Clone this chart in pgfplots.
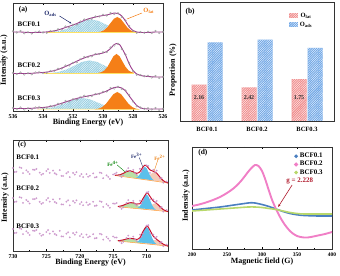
\documentclass[border=0pt]{standalone}
\usepackage{pgfplots}
\pgfplotsset{compat=1.18}
\usepackage{fontspec}
\setmainfont{Liberation Serif}
\usetikzlibrary{patterns,patterns.meta,arrows.meta}
\definecolor{envA}{HTML}{9B3C8C}
\definecolor{adsC}{HTML}{98CFE2}
\definecolor{latC}{HTML}{F57F17}
\definecolor{barR}{HTML}{F08C8C}
\definecolor{barB}{HTML}{6EA6E6}
\definecolor{envC}{HTML}{C8102E}
\definecolor{grnC}{HTML}{B9E0A5}
\definecolor{bluC}{HTML}{5BC0EB}
\definecolor{tanC}{HTML}{F3CBB8}
\definecolor{scC}{HTML}{C890C8}
\definecolor{pkD}{HTML}{F07FC6}
\definecolor{blD}{HTML}{4A7FC0}
\definecolor{grD}{HTML}{B8D86B}
\definecolor{navy}{HTML}{1F2A6B}
\definecolor{dred}{HTML}{B01C2E}
\newcommand{\fs}[1]{\fontsize{#1}{#1}\selectfont\bfseries}
\pgfplotsset{every axis/.append style={scale only axis,
  /pgf/number format/assume math mode=true,
  tick label style={font=\fs{6}},
  label style={font=\fs{8}},
  axis line style={line width=0.6pt, black!80},
  tick style={line width=0.5pt, black},
  major tick length=2.5pt, minor tick length=1.5pt}}
\tikzset{hatchW/.style={postaction={pattern={Lines[angle=45,distance=1.6pt,line width=0.35pt]}, pattern color=white}}}
\begin{document}
\begin{tikzpicture}
\useasboundingbox (0,0) rectangle (340bp,276bp);
% ---------------- (a) ----------------
\begin{axis}[at={(13bp,165bp)}, anchor=south west, width=150bp, height=108bp,
  xmin=526, xmax=536, x dir=reverse, ymin=0, ymax=108,
  xtick={526,528,...,536}, minor x tick num=1, ytick=\empty,
  xlabel={Binding Energy (eV)}, ylabel={Intensity (a.u.)},
  xlabel style={at={(axis description cs:0.5,-0.11)}, anchor=center},
  ylabel style={at={(axis description cs:-0.06,0.47)}, anchor=center}]
% spectrum 1
\addplot[draw=none, fill=adsC, hatchW] coordinates {(533.8,78.6) (533.3,79.1) (532.8,80.3) (532.3,82.7) (531.8,86.4) (531.3,90.0) (530.8,91.5) (530.3,90.0) (529.8,86.4) (529.3,82.7) (528.8,80.3) (528.3,79.1) (527.8,78.6)} -- cycle;
\addplot[draw=none, fill=latC] coordinates {(530.4,78.7) (530.175,79.2) (529.95,80.6) (529.725,83.5) (529.5,87.9) (529.275,92.2) (529.05,94.0) (528.825,92.2) (528.6,87.9) (528.375,83.5) (528.15,80.6) (527.925,79.2) (527.7,78.7)} -- cycle;
\addplot[color=yellow!70!orange!60, line width=0.5pt] coordinates {(533.8,78.5) (527.7,78.5)};
\addplot[only marks, mark=o, mark size=0.9pt, gray!80, mark options={line width=0.35pt}] coordinates {(536,79.8) (535.75,78.4) (535.5,80) (535.25,77.8) (535,78.8) (534.75,77.5) (534.5,79.1) (534.25,79.5) (534,78.4) (533.75,78.3) (533.5,80) (533.25,80) (533,81.8) (532.75,81.6) (532.5,84.5) (532.25,83.8) (532,86.3) (531.75,86.5) (531.5,89.6) (531.25,91.4) (531,91.6) (530.75,92.2) (530.5,94.5) (530.25,94.6) (530,96.3) (529.75,95.4) (529.5,98) (529.25,97.1) (529,97.8) (528.75,94) (528.5,90.6) (528.25,84.9) (528,80.1) (527.75,78.2) (527.5,79) (527.25,78.3) (527,79.3) (526.75,78.1) (526.5,80) (526.25,78.1) (526,79.3)};
\addplot[color=envA, line width=0.9pt, smooth] coordinates {(536,79) (535.5,79) (535,78.5) (534.5,78.5) (534,78.8) (533.5,79.5) (533,81) (532.5,83.5) (532,86) (531.5,89) (531,92) (530.5,94) (530,95.5) (529.75,96) (529.5,97) (529.25,98) (529,97.5) (528.75,95) (528.5,90) (528.25,84) (528,80.5) (527.75,79) (527.5,78.5) (527,78.5) (526.5,79) (526,79)};
% spectrum 2
\addplot[draw=none, fill=adsC, hatchW] coordinates {(533.9,37.6) (533.4,38.1) (532.9,39.3) (532.4,41.7) (531.9,45.4) (531.4,49.0) (530.9,50.5) (530.4,49.0) (529.9,45.4) (529.4,41.7) (528.9,39.3) (528.4,38.1) (527.9,37.6)} -- cycle;
\addplot[draw=none, fill=latC] coordinates {(530.3,38.2) (530.1,38.8) (529.9,40.6) (529.7,44.2) (529.5,49.5) (529.3,54.8) (529.1,57) (528.9,54.8) (528.7,49.5) (528.5,44.2) (528.3,40.6) (528.1,38.8) (527.9,38.2)} -- cycle;
\addplot[color=yellow!70!orange!60, line width=0.5pt] coordinates {(533.9,37.5) (527.9,37.5)};
\addplot[only marks, mark=o, mark size=0.9pt, gray!80, mark options={line width=0.35pt}] coordinates {(536,38.3) (535.75,36.9) (535.5,38.5) (535.25,36.6) (535,37.8) (534.75,36.7) (534.5,38.6) (534.25,39.1) (534,38.1) (533.75,38.2) (533.5,40) (533.25,40.3) (533,42.3) (532.75,42.4) (532.5,45.5) (532.25,45.4) (532,48.3) (531.75,48.8) (531.5,52.1) (531.25,53.9) (531,54.1) (530.75,54.7) (530.5,57) (530.25,57.1) (530,58.8) (529.75,58.9) (529.5,63.5) (529.25,65.6) (529,67.3) (528.75,62) (528.5,56.6) (528.25,47.9) (528,40.1) (527.75,36.2) (527.5,36) (527.25,34.8) (527,35.3) (526.75,33.6) (526.5,35) (526.25,33.1) (526,34.3)};
\addplot[color=envA, line width=0.9pt, smooth] coordinates {(536,37.5) (535.5,37.5) (535,37.5) (534.5,38) (534,38.5) (533.5,39.5) (533,41.5) (532.5,44.5) (532,48) (531.5,51.5) (531,54.5) (530.5,56.5) (530,58) (529.75,59.5) (529.5,62.5) (529.25,66.5) (529.1,67.5) (528.9,66.5) (528.75,63) (528.5,56) (528.25,47) (528,40.5) (527.75,37) (527.5,35.5) (527,34.5) (526.5,34) (526,34)};
% spectrum 3
\addplot[draw=none, fill=adsC, hatchW] coordinates {(534.4,2.1) (533.9,2.5) (533.4,3.5) (532.9,5.6) (532.4,8.7) (531.9,11.7) (531.4,13) (530.9,11.7) (530.4,8.7) (529.9,5.6) (529.4,3.5) (528.9,2.5) (528.4,2.1)} -- cycle;
\addplot[draw=none, fill=latC] coordinates {(530.55,1.7) (530.3,2.3) (530.05,3.9) (529.8,7.2) (529.55,12.1) (529.3,16.9) (529.05,19) (528.8,16.9) (528.55,12.1) (528.3,7.2) (528.05,3.9) (527.8,2.3) (527.55,1.7)} -- cycle;
\addplot[color=yellow!70!orange!60, line width=0.5pt] coordinates {(534.4,2) (527.6,1.6)};
\addplot[only marks, mark=o, mark size=0.9pt, gray!80, mark options={line width=0.35pt}] coordinates {(536,3.3) (535.75,1.9) (535.5,3.5) (535.25,1.6) (535,2.8) (534.75,1.8) (534.5,3.6) (534.25,4.1) (534,3.1) (533.75,3.2) (533.5,5) (533.25,5.3) (533,7.3) (532.75,7.2) (532.5,10) (532.25,9.4) (532,11.8) (531.75,11.5) (531.5,14.1) (531.25,15.2) (531,14.6) (530.75,15) (530.5,17) (530.25,17.3) (530,19.3) (529.75,19.4) (529.5,23) (529.25,22.6) (529,24.3) (528.75,22) (528.5,20.6) (528.25,15.9) (528,9.6) (527.75,4.7) (527.5,3.5) (527.25,2.3) (527,2.8) (526.75,1.4) (526.5,3) (526.25,1.1) (526,2.3)};
\addplot[color=envA, line width=0.9pt, smooth] coordinates {(536,2.5) (535.5,2.5) (535,2.5) (534.5,3) (534,3.5) (533.5,4.5) (533,6.5) (532.5,9) (532,11.5) (531.5,13.5) (531,15) (530.5,16.5) (530,18.5) (529.75,20) (529.5,22) (529.25,23.5) (529,24) (528.75,23) (528.5,20) (528.25,15) (528,10) (527.75,5.5) (527.5,3) (527,2) (526.5,2) (526,2)};
% annotations
\node[font=\fs{7.5}, anchor=west] at (axis cs:535.85,101) {(a)};
\node[font=\fs{7}] at (axis cs:534.93,87) {BCF0.1};
\node[font=\fs{7}] at (axis cs:534.93,46) {BCF0.2};
\node[font=\fs{7}] at (axis cs:534.93,13) {BCF0.3};
\node[font=\fs{6.5}, navy] at (axis cs:533.5,97) {O\textsubscript{ads}};
\draw[navy, line width=0.5pt, -{Stealth[length=2.5pt]}] (axis cs:532.9,95) -- (axis cs:532.1,87.5);
\node[font=\fs{6.5}, latC] at (axis cs:526.95,100) {O\textsubscript{lat}};
\draw[latC, line width=0.5pt] (axis cs:527.4,98) -- (axis cs:528.4,92);
\end{axis}
% ---------------- (b) ----------------
\begin{axis}[at={(180bp,155bp)}, anchor=south west, width=154bp, height=119bp,
  ybar, bar width=0.3, xmin=-0.54, xmax=2.54, ymin=0, ymax=103.5,
  xtick={0,1,2}, xticklabels={BCF0.1,BCF0.2,BCF0.3}, ytick=\empty,
  xtick style={draw=none}, extra x ticks={0,1,2}, extra x tick labels={},
  extra x tick style={tick style={black}},
  x tick label style={font=\fs{6.5}},
  ylabel={Proportion (\%)},
  ylabel style={at={(axis description cs:-0.045,0.43)}, anchor=center},
  area legend,
  legend style={draw=none, fill=none, at={(0.69,0.94)}, anchor=north west, font=\fs{6.5}, row sep=-1pt},
  legend image code/.code={\fill[#1] (0cm,-0.08cm) rectangle (0.3cm,0.1cm);}]
\addplot[bar shift=-0.16, draw=none, fill=barR, hatchW] coordinates {(0,31.6) (1,29.2) (2,36.4)};
\addlegendentry{O\textsubscript{lat}}
\addplot[bar shift=0.16, draw=none, fill=barB, hatchW] coordinates {(0,68.4) (1,70.8) (2,63.6)};
\addlegendentry{O\textsubscript{ads}}
\node[font=\fs{6}, black!80] at (axis cs:-0.16,20) {2.16};
\node[font=\fs{6}, black!80] at (axis cs:0.84,20) {2.42};
\node[font=\fs{6}, black!80] at (axis cs:1.84,20) {1.75};
\node[font=\fs{7.5}, anchor=west] at (axis cs:-0.5,95) {(b)};
\end{axis}
% ---------------- (c) ----------------
\begin{axis}[at={(13bp,25bp)}, anchor=south west, width=155bp, height=111bp,
  xmin=706.8, xmax=730, x dir=reverse, ymin=0, ymax=111,
  xtick={710,715,...,730}, minor x tick num=1, ytick=\empty,
  xlabel={Binding Energy (eV)}, ylabel={Intensity (a.u.)},
  xlabel style={at={(axis description cs:0.5,-0.108)}, anchor=center},
  ylabel style={at={(axis description cs:-0.052,0.48)}, anchor=center}]
% scatter
\addplot[only marks, mark=*, mark size=0.75pt, scC, opacity=0.75] coordinates {(730,83) (729.5,79.3) (729,83.6) (728.5,77.9) (728,80.7) (727.5,77) (727,81.3) (726.5,82.1) (726,78.4) (725.5,77.2) (725,80) (724.5,78.2) (724,80.4) (723.5,76.6) (723,80.8) (722.5,75) (722,77.7) (721.5,73.9) (721,78.1) (720.5,78.8) (720,75) (719.5,73.9) (719,76.8) (718.5,75.2) (718,77.6) (717.5,74) (717,78.4) (716.5,72.8) (716,75.7) (715.5,72.1) (715,76.5) (714.5,78.4) (714,75.2) (713.5,75.6) (713,80.4) (712.5,79.8) (712,81.2) (711.5,76.2) (711,82.2) (710.5,82) (710,85.6) (709.5,78.1) (709,81.2) (708.5,80.4) (708,72.8) (707.5,68.3) (707,69.5) (729.75,78.9) (728.75,83) (727.75,79.1) (726.75,81.2) (725.75,76.3) (724.75,81.85) (723.75,77.75) (722.75,75.15) (721.75,79.05) (720.75,76.45) (719.75,76.95) (718.75,74.25) (717.75,73.55) (716.75,77.85) (715.75,74.15) (714.75,77.2) (713.75,73.9) (712.75,82.9) (711.75,78) (710.75,79.4) (709.75,85.1) (708.75,78.8) (707.75,73)};
\addplot[only marks, mark=*, mark size=0.75pt, scC, opacity=0.75] coordinates {(730,53) (729.5,49.4) (729,53.8) (728.5,48.2) (728,51.1) (727.5,47.5) (727,51.9) (726.5,52.8) (726,49.2) (725.5,48.1) (725,51) (724.5,49.3) (724,51.6) (723.5,47.9) (723,52.2) (722.5,46.5) (722,49.3) (721.5,45.6) (721,49.9) (720.5,50.7) (720,47) (719.5,45.8) (719,48.6) (718.5,46.9) (718,49.2) (717.5,45.5) (717,49.8) (716.5,44.1) (716,46.9) (715.5,43.2) (715,47.5) (714.5,48) (714,43.8) (713.5,43.7) (713,48.2) (712.5,47.8) (712,50.2) (711.5,45.4) (711,50.3) (710.5,50.4) (710,58.5) (709.5,51.6) (709,51.5) (708.5,50.1) (708,43.4) (707.5,39.4) (707,40.9) (729.75,48.95) (728.75,53.25) (727.75,49.55) (726.75,51.85) (725.75,47.15) (724.75,52.9) (723.75,49) (722.75,46.6) (721.75,50.7) (720.75,48.3) (719.75,48.9) (718.75,46) (717.75,45.1) (716.75,49.2) (715.75,45.3) (714.75,47.3) (713.75,42.2) (712.75,50.8) (711.75,47.1) (710.75,47.5) (709.75,59.2) (708.75,48.8) (707.75,43.9)};
\addplot[only marks, mark=*, mark size=0.75pt, scC, opacity=0.75] coordinates {(730,22) (729.5,18.3) (729,22.6) (728.5,16.9) (728,19.7) (727.5,16) (727,20.3) (726.5,21.1) (726,17.4) (725.5,16.2) (725,19) (724.5,17.3) (724,19.6) (723.5,15.9) (723,20.2) (722.5,14.5) (722,17.3) (721.5,13.6) (721,17.9) (720.5,18.7) (720,15) (719.5,13.7) (719,16.4) (718.5,14.6) (718,16.8) (717.5,13) (717,17.2) (716.5,11.4) (716,14.1) (715.5,10.3) (715,14.5) (714.5,13.5) (714,9.5) (713.5,9.1) (713,13.1) (712.5,12.2) (712,14.3) (711.5,10) (711,16.35) (710.5,17.5) (710,25.35) (709.5,17.85) (709,16.3) (708.5,14.2) (708,8.15) (707.5,4.8) (707,6.4) (729.75,17.9) (728.75,22) (727.75,18.1) (726.75,20.2) (725.75,15.3) (724.75,20.9) (723.75,17) (722.75,14.6) (721.75,18.7) (720.75,16.3) (719.75,16.85) (718.75,13.75) (717.75,12.65) (716.75,16.55) (715.75,12.45) (714.75,13.5) (713.75,7.8) (712.75,15.4) (711.75,11.4) (710.75,14.2) (709.75,25.8) (708.75,13.2) (707.75,9)};
% spectrum 1 components
\addplot[draw=none, fill=grnC] coordinates {(714.65,75.7) (714.2,75.9) (713.75,76.8) (713.3,78.4) (712.85,79.9) (712.4,80.3) (711.95,79.0) (711.5,76.7) (711.05,74.3) (710.6,72.5) (710.15,71.5)} -- cycle;
\addplot[draw=none, fill=tanC] coordinates {(710.55,71.9) (710.2,72.4) (709.85,73.8) (709.5,76.0) (709.15,78.2) (708.8,78.9) (708.45,77.5) (708.1,74.7) (707.75,71.8) (707.4,69.8) (707.05,68.6)} -- cycle;
\addplot[draw=none, fill=bluC] coordinates {(711.625,73.1) (711.35,74.0) (711.075,76.2) (710.8,79.7) (710.525,83.0) (710.25,84.2) (709.975,82.5) (709.7,78.6) (709.425,74.7) (709.15,72.0) (708.875,70.5)} -- cycle;
\addplot[color=orange!80, line width=0.5pt] coordinates {(714.75,75.5) (706.8,68)};
\addplot[color=envC, line width=1pt, smooth] coordinates {(714.75,75.7) (714,76.2) (713.5,77.6) (713,79.4) (712.5,80.3) (712,79.2) (711.5,77.7) (711,79.2) (710.5,84.5) (710.25,85.8) (710,85.1) (709.5,81.1) (709,79.7) (708.5,77.9) (708,73.8) (707.5,70.3) (707,68.5) (706.8,68)};
% spectrum 2 components
\addplot[draw=none, fill=grnC] coordinates {(714.45,44.6) (714.0,44.8) (713.55,45.6) (713.1,46.8) (712.65,48.0) (712.2,48.4) (711.75,47.4) (711.3,45.6) (710.85,43.8) (710.4,42.5) (709.95,41.7)} -- cycle;
\addplot[draw=none, fill=tanC] coordinates {(710.45,42.1) (710.1,42.5) (709.75,43.6) (709.4,45.3) (709.05,47.0) (708.7,47.6) (708.35,46.6) (708.0,44.4) (707.65,42.2) (707.3,40.7) (706.95,39.8)} -- cycle;
\addplot[draw=none, fill=bluC] coordinates {(711.375,43.0) (711.1,44.2) (710.825,46.9) (710.55,50.9) (710.275,54.9) (710.0,56.5) (709.725,54.5) (709.45,50.2) (709.175,45.8) (708.9,42.8) (708.625,41.2)} -- cycle;
\addplot[color=orange!80, line width=0.5pt] coordinates {(714.3,44.2) (706.8,39.4)};
\addplot[color=envC, line width=1pt, smooth] coordinates {(714.3,44.6) (714,44.8) (713.5,45.7) (713,47.2) (712.5,48.3) (712,48.2) (711.5,46.9) (711,47.3) (710.5,52.9) (710,58.0) (709.75,57.2) (709.5,54.6) (709,50.0) (708.5,47.6) (708,44.4) (707.5,41.4) (707,39.9) (706.8,39.4)};
% spectrum 3 components
\addplot[draw=none, fill=grnC] coordinates {(714.55,10.35) (714.1,10.4) (713.65,10.86) (713.2,11.68) (712.75,12.47) (712.3,12.63) (711.85,11.85) (711.4,10.44) (710.95,9.01) (710.5,7.94) (710.05,7.27)} -- cycle;
\addplot[draw=none, fill=tanC] coordinates {(710.35,7.51) (710.0,7.74) (709.65,8.44) (709.3,9.61) (708.95,10.75) (708.6,11.1) (708.25,10.27) (707.9,8.65) (707.55,7.0) (707.2,5.82) (706.85,5.12)} -- cycle;
\addplot[draw=none, fill=bluC] coordinates {(711.5,8.83) (711.2,10.18) (710.9,13.2) (710.6,17.77) (710.3,22.26) (710.0,24.06) (709.7,21.85) (709.4,16.94) (709.1,11.97) (708.8,8.53) (708.5,6.78)} -- cycle;
\addplot[color=orange!80, line width=0.5pt] coordinates {(714.3,10) (706.8,4.9)};
\addplot[color=envC, line width=1pt, smooth] coordinates {(714.3,10.3) (714,10.5) (713.5,11.1) (713,12.1) (712.5,12.7) (712,12.3) (711.5,11.5) (711,13.35) (710.5,20.0) (710,24.85) (709.75,23.8) (709.5,20.85) (709,14.8) (708.5,11.7) (708,9.15) (707.5,6.8) (707,5.4) (706.8,4.9)};
% labels
\node[font=\fs{7.5}, anchor=west] at (axis cs:729.8,106) {(c)};
\node[font=\fs{7}] at (axis cs:727.8,94) {BCF0.1};
\node[font=\fs{7}] at (axis cs:727.8,63) {BCF0.2};
\node[font=\fs{7}] at (axis cs:727.8,25) {BCF0.3};
\node[font=\fs{5}, green!50!black] at (axis cs:715.05,87.5) {Fe\textsuperscript{4+}};
\draw[green!50!black, line width=0.4pt] (axis cs:714.4,86) -- (axis cs:713.2,79);
\node[font=\fs{5}, navy] at (axis cs:711.5,95.5) {Fe\textsuperscript{3+}};
\draw[navy, line width=0.4pt] (axis cs:711.1,93.5) -- (axis cs:710.6,84.5);
\node[font=\fs{5}, orange!70!brown] at (axis cs:708.0,93.5) {Fe\textsuperscript{2+}};
\draw[orange!70!brown, line width=0.4pt] (axis cs:708.3,91.5) -- (axis cs:708.9,79.5);
\end{axis}
% ---------------- (d) ----------------
\begin{axis}[at={(192bp,27bp)}, anchor=south west, width=140bp, height=102bp,
  xmin=200, xmax=400, ymin=0, ymax=102,
  xtick={200,250,...,400}, minor x tick num=1, ytick=\empty,
  x tick label style={font=\fs{5.5}},
  xlabel={Magnetic field (G)}, ylabel={Indensity (a.u.)},
  xlabel style={at={(axis description cs:0.5,-0.127)}, anchor=center},
  ylabel style={at={(axis description cs:-0.043,0.52)}, anchor=center},
  legend style={draw=none, fill=none, at={(0.97,0.98)}, anchor=north east, font=\fs{7}, row sep=-2pt},
  legend image code/.code={\fill[#1] (0.2cm,0cm) circle (0.9pt);}]
\addplot[color=blD, line width=1.6pt, smooth] coordinates {(200,39) (220,40.5) (240,42) (260,44) (270,45) (280,46) (285,46.3) (290,46) (300,44.5) (310,42.5) (320,40) (330,37.5) (340,35.5) (350,34.2) (360,33.5) (370,33.2) (380,33) (390,33) (400,33)};
\addlegendentry{BCF0.1}
\addplot[color=pkD, line width=1.9pt, smooth] coordinates {(200,43) (210,44.5) (220,46.5) (230,49) (240,52) (250,56) (260,61) (270,68) (280,77) (285,81) (290,84) (295,83) (300,78) (305,69) (310,58) (315,48) (320,40) (325,33) (330,27) (335,22) (340,18) (345,15) (350,13) (355,12) (360,11.5) (365,11.5) (370,12) (380,13.5) (390,15) (400,17)};
\addlegendentry{BCF0.2}
\addplot[color=grD, line width=1.6pt, smooth] coordinates {(200,38) (220,39) (240,40) (260,41) (280,42) (290,42) (300,41.5) (310,40.5) (320,39.5) (330,38) (340,36.5) (350,35.5) (360,35) (380,35) (400,35)};
\addlegendentry{BCF0.3}
\node[font=\fs{7.5}, anchor=west] at (axis cs:204,96) {(d)};
\node[font=\fs{7}, dred] at (axis cs:354,68) {g = 2.228};
\draw[dred, line width=0.6pt, -{Stealth[length=3pt]}] (axis cs:343,64) -- (axis cs:323,42);
\end{axis}
\end{tikzpicture}
\end{document}
